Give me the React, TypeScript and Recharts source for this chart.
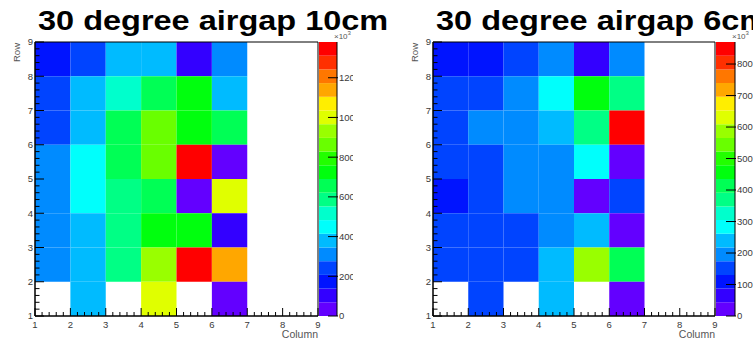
import { ComposedChart, BarChart, Bar, XAxis, YAxis, ReferenceArea } from 'recharts'

const FONT = '"Liberation Sans", Arial, Helvetica, sans-serif'

// bin layout: columns 1..6 filled, rows listed top (8) to bottom (1)
const COLUMNS = [1, 2, 3, 4, 5, 6]
const ROWS = [8, 7, 6, 5, 4, 3, 2, 1]
const AXIS_TICKS = [1, 2, 3, 4, 5, 6, 7, 8, 9]

// 0 = empty bin (not painted)
const GAP10_VALUES = [
  [170, 250, 385, 370, 110, 320],
  [240, 365, 520, 650, 720, 375],
  [245, 360, 640, 860, 730, 660],
  [315, 445, 630, 850, 1380, 40],
  [310, 450, 600, 680, 50, 1005],
  [305, 380, 600, 735, 740, 100],
  [300, 385, 610, 940, 1350, 1140],
  [0, 375, 0, 1000, 0, 45],
]
const GAP10_ZMAX = 1380
const GAP10_PALETTE_TICKS = [0, 200, 400, 600, 800, 1000, 1200]

const GAP6_VALUES = [
  [105, 110, 150, 200, 65, 195],
  [150, 155, 195, 285, 460, 375],
  [150, 195, 200, 240, 370, 870],
  [155, 150, 195, 200, 280, 30],
  [110, 150, 200, 205, 35, 155],
  [150, 148, 152, 198, 245, 38],
  [152, 150, 150, 240, 580, 410],
  [0, 150, 0, 240, 0, 30],
]
const GAP6_ZMAX = 870
const GAP6_PALETTE_TICKS = [0, 100, 200, 300, 400, 500, 600, 700, 800]

// ROOT "pretty palette": 50 hues, 20 contour levels
const N_LEVELS = 20
const LEVELS = Array.from({ length: N_LEVELS }, (_, i) => i)

function levelColor(level: number) {
  const idx = Math.floor((level + 0.99) * 50 / N_LEVELS)
  const hue = 280 - (idx + 1) * 5.6
  return `hsl(${hue.toFixed(1)}, 100%, 50%)`
}

function cellColor(v: number, zmax: number) {
  const level = Math.min(N_LEVELS - 1, Math.floor((v / zmax) * N_LEVELS))
  return levelColor(level)
}

const AXIS_ALL_TICKS = AXIS_TICKS.flatMap((t) =>
  t === 9 ? [t] : [0, 1, 2, 3, 4].map((k) => t + k / 5)
)

const isMajor = (v: number) => Math.abs(v - Math.round(v)) < 1e-6

function BottomTick({ x, y, payload }: any) {
  const v = payload.value
  const major = isMajor(v)
  return (
    <g>
      <line x1={x} y1={y} x2={x} y2={y - (major ? 8 : 4)} stroke="#000" />
      {major && (
        <text x={x} y={y + 11.5} textAnchor="middle" fontSize={9.5} fill="#3a3a3a" fontFamily={FONT}>
          {Math.round(v)}
        </text>
      )}
    </g>
  )
}

function LeftTick({ x, y, payload }: any) {
  const v = payload.value
  const major = isMajor(v)
  return (
    <g>
      <line x1={x} y1={y} x2={x + (major ? 9 : 4.5)} y2={y} stroke="#000" />
      {major && (
        <text x={x - 2} y={y + 3.4} textAnchor="end" fontSize={9.5} fill="#3a3a3a" fontFamily={FONT}>
          {Math.round(v)}
        </text>
      )}
    </g>
  )
}

function PaletteTick({ x, y, payload }: any) {
  return (
    <g>
      <line x1={x - 9} y1={y} x2={x + 1} y2={y} stroke="#000" />
      <text x={x + 2} y={y + 3.4} textAnchor="start" fontSize={9.5} fill="#3a3a3a" fontFamily={FONT}>
        {payload.value}
      </text>
    </g>
  )
}

interface PanelProps {
  title: string
  values: number[][]
  zmax: number
  paletteTicks: number[]
  frameLeft: number
  frameRight: number
  paletteRight: number
  clipRight: number
}

function Panel({ title, values, zmax, paletteTicks, frameLeft, frameRight, paletteRight, clipRight }: PanelProps) {
  const cells: { row: number; col: number; v: number }[] = []
  ROWS.forEach((row, i) =>
    COLUMNS.forEach((col, j) => {
      const v = values[i][j]
      if (v > 0) cells.push({ row, col, v })
    })
  )

  const bandWidth = zmax / N_LEVELS
  const paletteRow: Record<string, number | string> = { name: 'z' }
  LEVELS.forEach((l) => (paletteRow[`l${l}`] = bandWidth))

  const chartLeft = frameLeft - 35
  const paletteLeft = frameRight + 1
  const paletteW = clipRight - paletteLeft

  return (
    <>
      <div
        style={{
          position: 'absolute',
          left: frameLeft + 3,
          top: 7,
          fontFamily: FONT,
          fontWeight: 'bold',
          fontSize: 28,
          lineHeight: '28px',
          whiteSpace: 'nowrap',
          transform: 'scaleX(1.16)',
          transformOrigin: 'left top',
          color: '#000',
        }}
      >
        {title}
      </div>

      <div style={{ position: 'absolute', left: chartLeft, top: 0 }}>
        <ComposedChart width={frameRight - chartLeft + 10} height={343} margin={{ top: 42, right: 10, bottom: 0, left: 0 }}>
          {cells.map((c) => (
            <ReferenceArea
              key={`${c.row}-${c.col}`}
              x1={c.col}
              x2={c.col + 1}
              y1={c.row}
              y2={c.row + 1}
              fill={cellColor(c.v, zmax)}
              fillOpacity={1}
              stroke="none"
            />
          ))}
          <ReferenceArea x1={1} x2={9} y1={1} y2={9} fill="none" stroke="#000" strokeWidth={1} />
          <XAxis
            type="number"
            dataKey="col"
            domain={[1, 9]}
            ticks={AXIS_ALL_TICKS}
            interval={0}
            allowDataOverflow
            height={27}
            tickSize={0}
            tickMargin={0}
            tickLine={false}
            axisLine={{ stroke: '#000' }}
            tick={<BottomTick />}
          />
          <YAxis
            type="number"
            dataKey="row"
            domain={[1, 9]}
            ticks={AXIS_ALL_TICKS}
            interval={0}
            allowDataOverflow
            width={35}
            tickSize={0}
            tickMargin={0}
            tickLine={false}
            axisLine={{ stroke: '#000' }}
            tick={<LeftTick />}
          />
        </ComposedChart>
      </div>

      <div style={{ position: 'absolute', left: paletteLeft, top: 0, width: paletteW, height: 343, overflow: 'hidden' }}>
        <BarChart
          width={paletteW}
          height={343}
          data={[paletteRow]}
          margin={{ top: 42, right: 0, bottom: 27, left: 0 }}
          barCategoryGap={0}
          barGap={0}
        >
          <XAxis dataKey="name" hide />
          <YAxis
            orientation="right"
            type="number"
            domain={[0, zmax]}
            ticks={paletteTicks}
            interval={0}
            allowDataOverflow
            width={paletteW - (paletteRight - paletteLeft)}
            tickSize={0}
            tickMargin={0}
            tickLine={false}
            axisLine={{ stroke: '#000' }}
            tick={<PaletteTick />}
          />
          {LEVELS.map((l) => (
            <Bar key={l} dataKey={`l${l}`} stackId="palette" fill={levelColor(l)} isAnimationActive={false} />
          ))}
        </BarChart>
        <div
          style={{
            position: 'absolute',
            left: paletteRight - paletteLeft - 3,
            top: 30,
            fontFamily: FONT,
            fontSize: 8,
            color: '#555',
            whiteSpace: 'nowrap',
          }}
        >
          ×10<sup style={{ fontSize: 6 }}>3</sup>
        </div>
      </div>

      <div
        style={{
          position: 'absolute',
          left: frameLeft - 24,
          top: 42,
          height: 20,
          width: 10,
          fontFamily: FONT,
          fontSize: 9.5,
          color: '#555',
        }}
      >
        <div style={{ position: 'absolute', left: 0, top: 0, transform: 'translate(0, 20px) rotate(-90deg)', transformOrigin: 'left top' }}>
          Row
        </div>
      </div>
      <div
        style={{
          position: 'absolute',
          left: frameRight - 60,
          width: 60,
          top: 328,
          textAlign: 'right',
          fontFamily: FONT,
          fontSize: 10.5,
          color: '#555',
        }}
      >
        Column
      </div>
    </>
  )
}

export default function App() {
  return (
    <div style={{ position: 'absolute', left: 0, top: 0, width: 753, height: 343, background: '#fff', overflow: 'hidden' }}>
      <Panel
        title="30 degree airgap 10cm"
        values={GAP10_VALUES}
        zmax={GAP10_ZMAX}
        paletteTicks={GAP10_PALETTE_TICKS}
        frameLeft={35}
        frameRight={318}
        paletteRight={337}
        clipRight={353}
      />
      <Panel
        title="30 degree airgap 6cm"
        values={GAP6_VALUES}
        zmax={GAP6_ZMAX}
        paletteTicks={GAP6_PALETTE_TICKS}
        frameLeft={433}
        frameRight={715}
        paletteRight={735}
        clipRight={753}
      />
    </div>
  )
}
